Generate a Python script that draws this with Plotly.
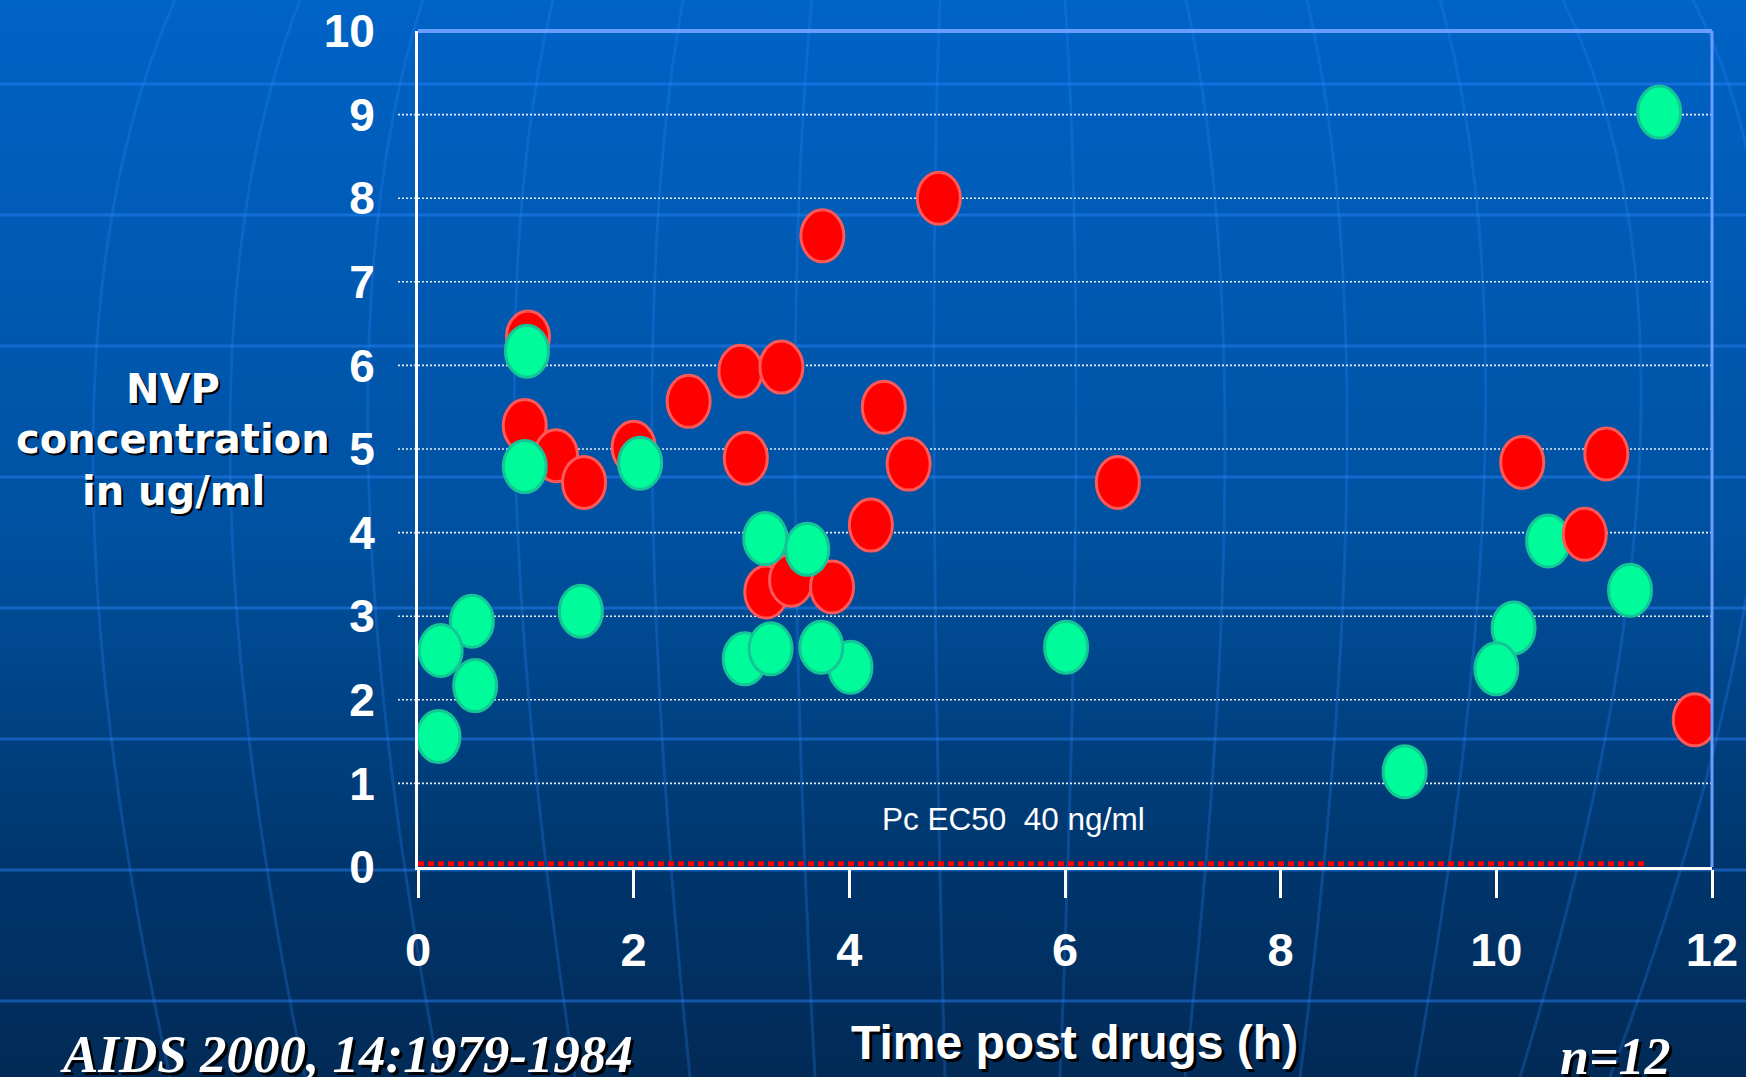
import base64
import plotly.graph_objects as go

# ---- data: NVP concentration (ug/ml) vs time after dosing (h) ----
red_hours = [1.02, 0.99, 1.28, 1.54, 2.00, 2.51, 2.99, 3.37, 3.04, 3.75, 4.83,
             4.32, 4.55, 4.20, 3.23, 3.46, 3.84, 6.49, 10.24, 11.02, 10.82, 11.84]
red_conc = [6.34, 5.28, 4.92, 4.60, 5.02, 5.57, 5.93, 5.98, 4.89, 7.55, 8.00,
            5.50, 4.82, 4.09, 3.29, 3.43, 3.35, 4.60, 4.84, 4.94, 3.98, 1.76]

green_hours = [1.01, 0.99, 2.06, 1.51, 0.50, 0.21, 0.53, 0.19, 3.22, 3.61, 3.03,
               3.27, 4.01, 3.74, 6.01, 9.15, 10.16, 10.00, 10.48, 11.24, 11.51]
green_conc = [6.17, 4.79, 4.83, 3.06, 2.94, 2.59, 2.17, 1.56, 3.93, 3.80, 2.49,
              2.61, 2.39, 2.63, 2.63, 1.14, 2.86, 2.37, 3.90, 3.31, 9.03]

# EC50 threshold: 40 ng/ml = 0.04 ug/ml, drawn over the sampled time span
ec50_ug_ml = 0.04
ec50_span = [0, 11.4]

x_ticks = [0, 2, 4, 6, 8, 10, 12]
y_ticks = [0, 1, 2, 3, 4, 5, 6, 7, 8, 9, 10]
grid_levels = [1, 2, 3, 4, 5, 6, 7, 8, 9]

# ---- page geometry ----
W, H = 1746, 1077
L, R, T, B = 418, 34, 31, 210
PW, PH = W - L - R, H - T - B


def paper_x(px):
    return (px - L) / PW


def paper_y(py):
    return (H - B - py) / PH


# ---- slide background: blue gradient with faint globe lines ----
lat_lines = [84, 215, 346, 477, 608, 739, 870, 1001]
meridians = [(175, 93, 170), (300, 230, 305), (423, 368, 440), (553, 515, 575),
             (683, 652, 690), (812, 795, 815), (940, 934, 945), (1065, 1076, 1060),
             (1186, 1225, 1185), (1307, 1347, 1300), (1440, 1485, 1415),
             (1563, 1640, 1520), (1693, 1765, 1610)]
paths = []
for y in lat_lines:
    paths.append(f'<path d="M0 {y} L{W} {y}" stroke-opacity="0.45"/>')
for x0, xm, x1 in meridians:
    cx = 2 * xm - (x0 + x1) / 2
    cy = 2 * 450 - H / 2
    paths.append(f'<path d="M{x0} 0 Q{cx} {cy} {x1} {H}" stroke-opacity="0.25"/>')

svg = (
    f'<svg xmlns="http://www.w3.org/2000/svg" width="{W}" height="{H}" viewBox="0 0 {W} {H}">'
    '<defs><linearGradient id="g" x1="0" y1="0" x2="0" y2="1">'
    '<stop offset="0" stop-color="#0063c6"/>'
    '<stop offset="0.5" stop-color="#0051a0"/>'
    '<stop offset="0.8" stop-color="#00366d"/>'
    '<stop offset="1" stop-color="#022a56"/>'
    '</linearGradient></defs>'
    f'<rect width="{W}" height="{H}" fill="url(#g)"/>'
    '<g stroke="#2a86ff" stroke-width="3" fill="none">' + "".join(paths) + '</g>'
    '</svg>'
)
bg_uri = "data:image/svg+xml;base64," + base64.b64encode(svg.encode()).decode()

fig = go.Figure()

# EC50 reference line
fig.add_trace(go.Scatter(
    x=ec50_span, y=[ec50_ug_ml, ec50_ug_ml], mode="lines",
    line=dict(color="#ff0000", width=5, dash="6px,4px"),
    hoverinfo="skip", showlegend=False, cliponaxis=False,
))

shapes = []

# dotted horizontal gridlines, extending slightly left of the axis
for lv in grid_levels:
    shapes.append(dict(type="line", xref="paper", yref="y",
                       x0=paper_x(398), x1=1, y0=lv, y1=lv,
                       line=dict(color="rgba(255,255,255,0.9)", width=1.6, dash="2px,2px"),
                       layer="below"))

RED = dict(fillcolor="#ff0000", line=dict(color="#ff5858", width=3))
GREEN = dict(fillcolor="#00fb9b", line=dict(color="#14c596", width=3))


def ellipse(h, c, style):
    return dict(type="circle", xref="x", yref="y",
                xsizemode="pixel", ysizemode="pixel",
                xanchor=h, yanchor=c,
                x0=-21.5, x1=21.5, y0=-26, y1=26,
                layer="above", **style)


reds = list(zip(red_hours, red_conc))
greens = list(zip(green_hours, green_conc))
# early samples: red below green; late samples: green below red
for h, c in reds:
    if h < 9:
        shapes.append(ellipse(h, c, RED))
for h, c in greens:
    if h < 9:
        shapes.append(ellipse(h, c, GREEN))
for h, c in greens:
    if h >= 9:
        shapes.append(ellipse(h, c, GREEN))
for h, c in reds:
    if h >= 9:
        shapes.append(ellipse(h, c, RED))

# light-blue frame on top and right
shapes.append(dict(type="line", xref="paper", yref="paper", x0=0, x1=1.0, y0=1, y1=1,
                   line=dict(color="#6b9cff", width=4), layer="above"))
shapes.append(dict(type="line", xref="paper", yref="paper", x0=1, x1=1, y0=0, y1=1,
                   line=dict(color="#6b9cff", width=3), layer="above"))

white_bold = dict(family="Liberation Sans, Arial, sans-serif", color="white", weight="bold")

annotations = []
# y title, one annotation per line
for txt, py in [("NVP", 389), ("concentration", 439), ("in ug/ml", 491)]:
    annotations.append(dict(
        text=txt, xref="paper", yref="paper", x=paper_x(173), y=paper_y(py),
        xanchor="center", yanchor="middle", showarrow=False,
        font=dict(family="DejaVu Sans, sans-serif", size=40, color="white",
                  weight="bold", shadow="2px 2px 0px #000000"),
    ))
annotations.append(dict(
    text="Time post drugs (h)", xref="paper", yref="paper",
    x=paper_x(1074), y=paper_y(1042), xanchor="center", yanchor="middle",
    showarrow=False, font=dict(size=48, shadow="3px 3px 0px #000000", **white_bold),
))
annotations.append(dict(
    text="AIDS 2000, 14:1979-1984", xref="paper", yref="paper",
    x=paper_x(58), y=paper_y(1054), xanchor="left", yanchor="middle",
    showarrow=False,
    font=dict(family="Liberation Serif, Times New Roman, serif", size=53, color="white",
              weight="bold", style="italic", shadow="3px 3px 0px #000000"),
))
annotations.append(dict(
    text="n=12", xref="paper", yref="paper",
    x=paper_x(1615), y=paper_y(1056), xanchor="center", yanchor="middle",
    showarrow=False,
    font=dict(family="Liberation Serif, Times New Roman, serif", size=52, color="white",
              weight="bold", style="italic", shadow="3px 3px 0px #000000"),
))
annotations.append(dict(
    text="Pc EC50\u00a0 40 ng/ml", xref="x", yref="y", x=5.52, y=0.574,
    xanchor="center", yanchor="middle", showarrow=False,
    font=dict(family="Liberation Sans, Arial, sans-serif", size=31.5, color="white"),
))

fig.update_layout(
    width=W, height=H, autosize=False,
    margin=dict(l=L, r=R, t=T, b=B, pad=0),
    paper_bgcolor="#00509e", plot_bgcolor="rgba(0,0,0,0)",
    showlegend=False,
    images=[dict(source=bg_uri, xref="paper", yref="paper",
                 x=paper_x(0), y=paper_y(0), sizex=W / PW, sizey=H / PH,
                 xanchor="left", yanchor="top", sizing="stretch", layer="below")],
    shapes=shapes,
    annotations=annotations,
    xaxis=dict(range=[0, 12], tickvals=x_ticks, ticktext=[str(v) for v in x_ticks],
               showgrid=False, zeroline=False, showline=True, automargin=False,
               linecolor="white", linewidth=3,
               ticks="outside", ticklen=28, tickwidth=3, tickcolor="white",
               ticklabelstandoff=12,
               tickfont=dict(size=47, **white_bold), fixedrange=True),
    yaxis=dict(range=[0, 10], tickvals=y_ticks, ticktext=[str(v) for v in y_ticks],
               showgrid=False, zeroline=False, showline=True, automargin=False,
               linecolor="white", linewidth=3, ticks="",
               ticklabelstandoff=31,
               tickfont=dict(size=46, **white_bold), fixedrange=True),
)

fig.write_html("out.html")
